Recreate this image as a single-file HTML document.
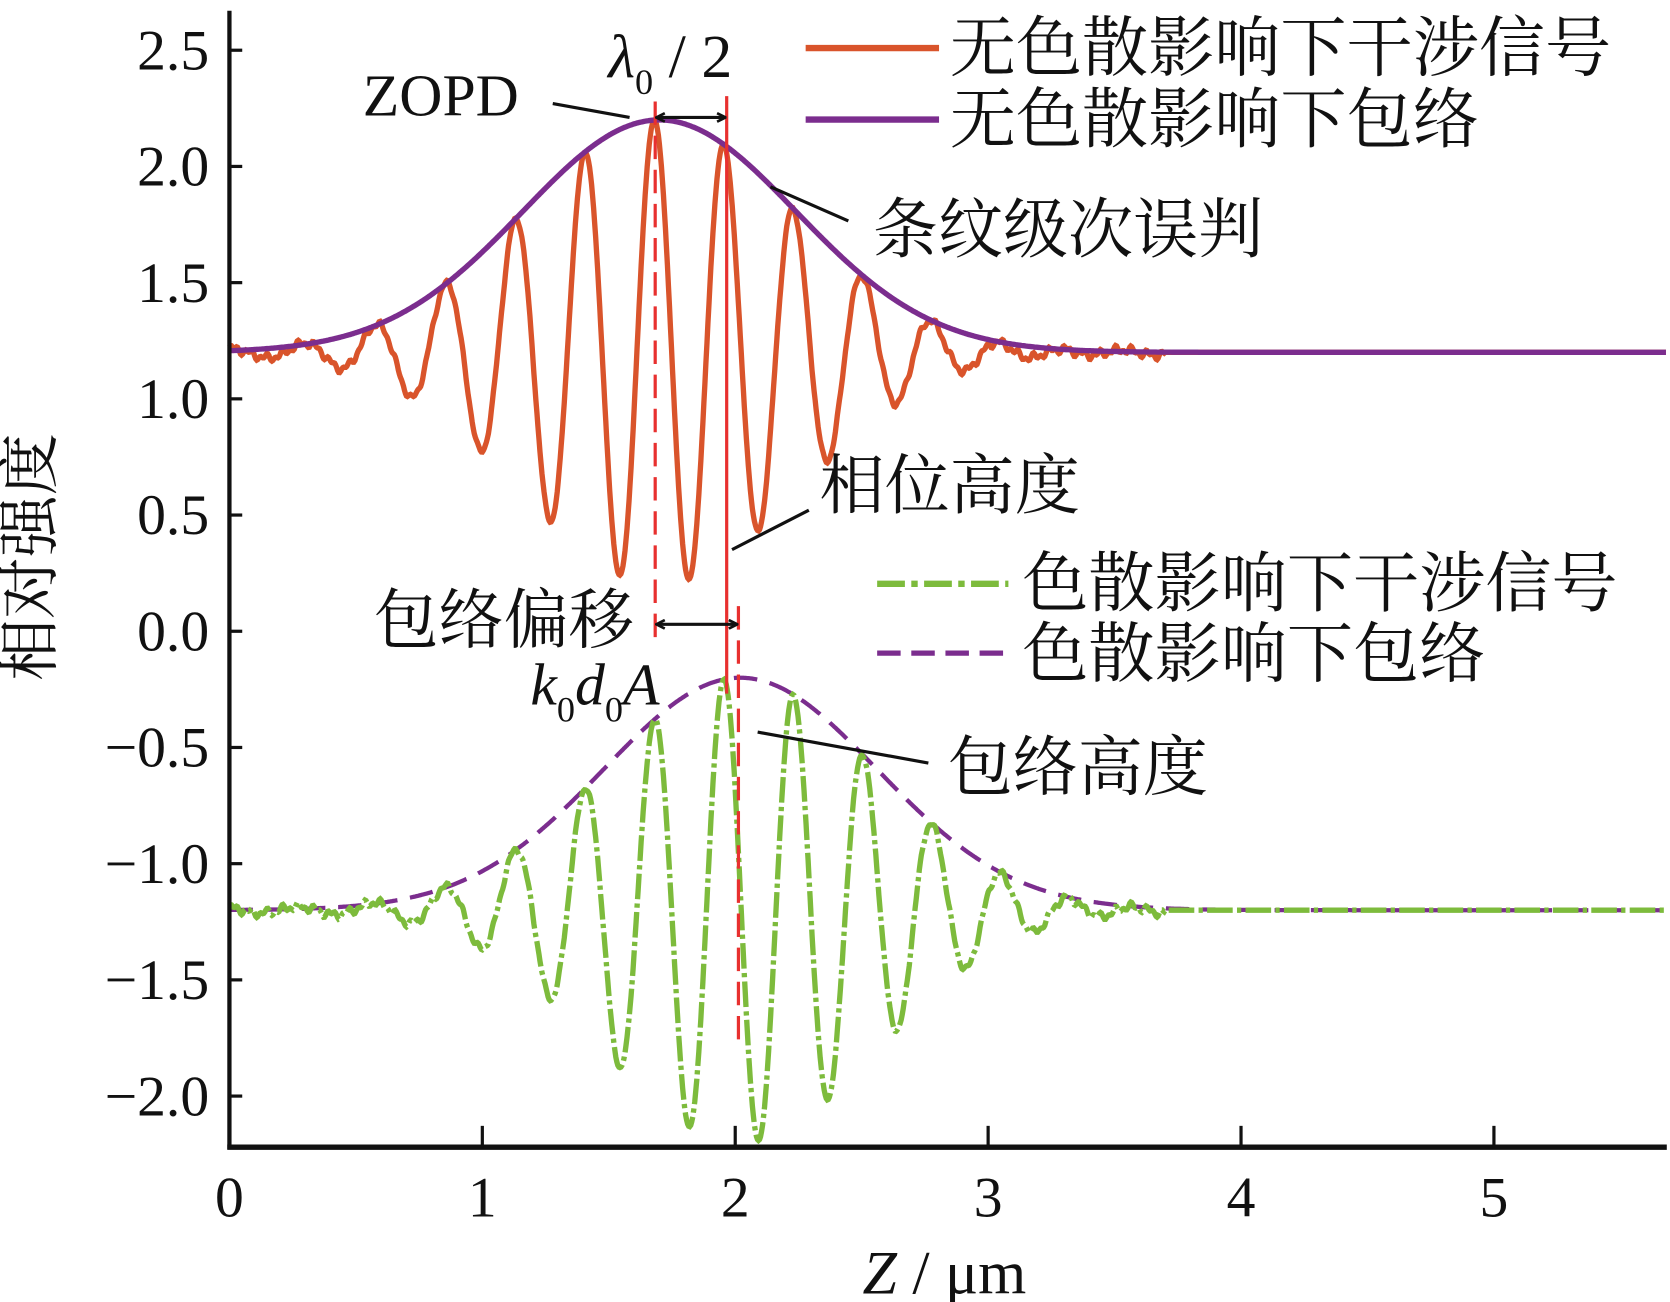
<!DOCTYPE html>
<html><head><meta charset="utf-8"><style>
html,body{margin:0;padding:0;background:#fff;}
svg{display:block;}
text{font-family:"Liberation Serif","Noto Serif CJK SC",serif;fill:#111;}
.cj{font-family:"Liberation Serif","Noto Serif CJK SC","Noto Sans CJK SC",serif;}
</style></head><body>
<svg id="s" width="1670" height="1302" viewBox="0 0 1565 1220" xmlns="http://www.w3.org/2000/svg">
<defs><marker id="ah" markerWidth="10" markerHeight="10" refX="8" refY="5" orient="auto-start-reverse" markerUnits="userSpaceOnUse"><path d="M1,1 L9,5 L1,9" fill="none" stroke="#111" stroke-width="2.5"/></marker></defs>
<g id="curves"></g>
<line x1="614" y1="95" x2="614" y2="600" stroke="#e8302f" stroke-width="3" stroke-dasharray="22,10"/>
<line x1="681" y1="90" x2="681" y2="650" stroke="#e8302f" stroke-width="3"/>
<line x1="692" y1="568" x2="692" y2="975" stroke="#e8302f" stroke-width="3" stroke-dasharray="22,10"/>
<line x1="616" y1="110" x2="679" y2="110" stroke="#111" stroke-width="3" marker-start="url(#ah)" marker-end="url(#ah)"/>
<line x1="616" y1="585" x2="690" y2="585" stroke="#111" stroke-width="3" marker-start="url(#ah)" marker-end="url(#ah)"/>
<g stroke="#111" stroke-width="3">
<line x1="518" y1="97" x2="590" y2="110"/>
<line x1="722" y1="175" x2="795" y2="207"/>
<line x1="686" y1="515" x2="758" y2="478"/>
<line x1="710" y1="686" x2="870" y2="715"/>
</g>
<g stroke="#111">
<line x1="215" y1="10" x2="215" y2="1077" stroke-width="4"/>
<line x1="213" y1="1075" x2="1562" y2="1075" stroke-width="5"/>
</g>
<g id="ticks" stroke="#111" stroke-width="3"></g>
<g id="labels" font-size="54"></g>
<text x="885" y="1212" font-size="58" text-anchor="middle"><tspan font-style="italic">Z</tspan> / μm</text>
<text class="cj" transform="translate(48,522) rotate(-90)" font-size="58" text-anchor="middle">相对强度</text>
<text x="340" y="108" font-size="56">ZOPD</text>
<text x="570" y="72" font-size="58"><tspan font-style="italic">λ</tspan><tspan font-size="34" dy="16">0</tspan><tspan dy="-16"> / 2</tspan></text>
<text class="cj" x="818" y="236" font-size="61">条纹级次误判</text>
<text class="cj" x="768" y="476" font-size="61">相位高度</text>
<text class="cj" x="350" y="602" font-size="61">包络偏移</text>
<text x="497" y="660" font-size="56" font-style="italic">k<tspan font-style="normal" font-size="34" dy="16">0</tspan><tspan dy="-16">d</tspan><tspan font-style="normal" font-size="34" dy="16">0</tspan><tspan dy="-16">A</tspan></text>
<text class="cj" x="888" y="740" font-size="61">包络高度</text>
<line x1="755" y1="45" x2="880" y2="45" stroke="#d9542b" stroke-width="6"/>
<text class="cj" x="890" y="66" font-size="62">无色散影响下干涉信号</text>
<line x1="755" y1="112" x2="880" y2="112" stroke="#7b2d8e" stroke-width="6"/>
<text class="cj" x="890" y="133" font-size="62">无色散影响下包络</text>
<line x1="822" y1="547" x2="945" y2="547" stroke="#7dbb3c" stroke-width="6" stroke-dasharray="26,6,6,6"/>
<text class="cj" x="958" y="568" font-size="62">色散影响下干涉信号</text>
<line x1="822" y1="612" x2="945" y2="612" stroke="#7b2d8e" stroke-width="5" stroke-dasharray="22,10"/>
<text class="cj" x="958" y="634" font-size="62">色散影响下包络</text>
</svg>
<script>
var X=function(z){return 215+z*237;}, Y=function(v){return 47+(2.5-v)*217.8;};
function noise(z){return 0.012*Math.sin(z*97.3)+0.009*Math.sin(z*211.7+1)+0.012*Math.sin(z*23.1+2);}
function build(base,cen,sg){
 var s='',e='';
 for(var z=0;z<=5.68;z+=0.004){
  var g=Math.exp(-(z-cen)*(z-cen)/(2*sg*sg));
  var v=base+g*Math.cos(2*Math.PI*(z-1.68)/0.275);
  if(z<3.7) v+=noise(z)*(1-g); else v=base;
  s+=(s?'L':'M')+X(z).toFixed(1)+','+Y(v).toFixed(1);
  e+=(e?'L':'M')+X(z).toFixed(1)+','+Y(base+g).toFixed(1);
 }
 return [s,e];
}
var t=build(1.2,1.7,0.54),b=build(-1.2,2.02,0.54);
var c=document.getElementById('curves');
c.innerHTML='<path d="'+t[0]+'" fill="none" stroke="#d9542b" stroke-width="5"/>'+
'<path d="'+t[1]+'" fill="none" stroke="#7b2d8e" stroke-width="5"/>'+
'<path d="'+b[1]+'" fill="none" stroke="#7b2d8e" stroke-width="4" stroke-dasharray="22,12"/>'+
'<path d="'+b[0]+'" fill="none" stroke="#7dbb3c" stroke-width="5" stroke-dasharray="24,4,4,4"/>';
var tk='',lb='';
for(var i=0;i<=9;i++){var v=2.5-0.5*i,y=Y(v);tk+='<line x1="215" y1="'+y+'" x2="227" y2="'+y+'"/>';
 lb+='<text x="196" y="'+(y+18)+'" text-anchor="end">'+(v<0?'\u2212':'')+Math.abs(v).toFixed(1)+'</text>';}
for(var j=0;j<=5;j++){var x=X(j);if(j>0)tk+='<line x1="'+x+'" y1="1075" x2="'+x+'" y2="1055"/>';
 lb+='<text x="'+x+'" y="1140" text-anchor="middle">'+j+'</text>';}
document.getElementById('ticks').innerHTML=tk;
document.getElementById('labels').innerHTML=lb;
</script>
</body></html>
